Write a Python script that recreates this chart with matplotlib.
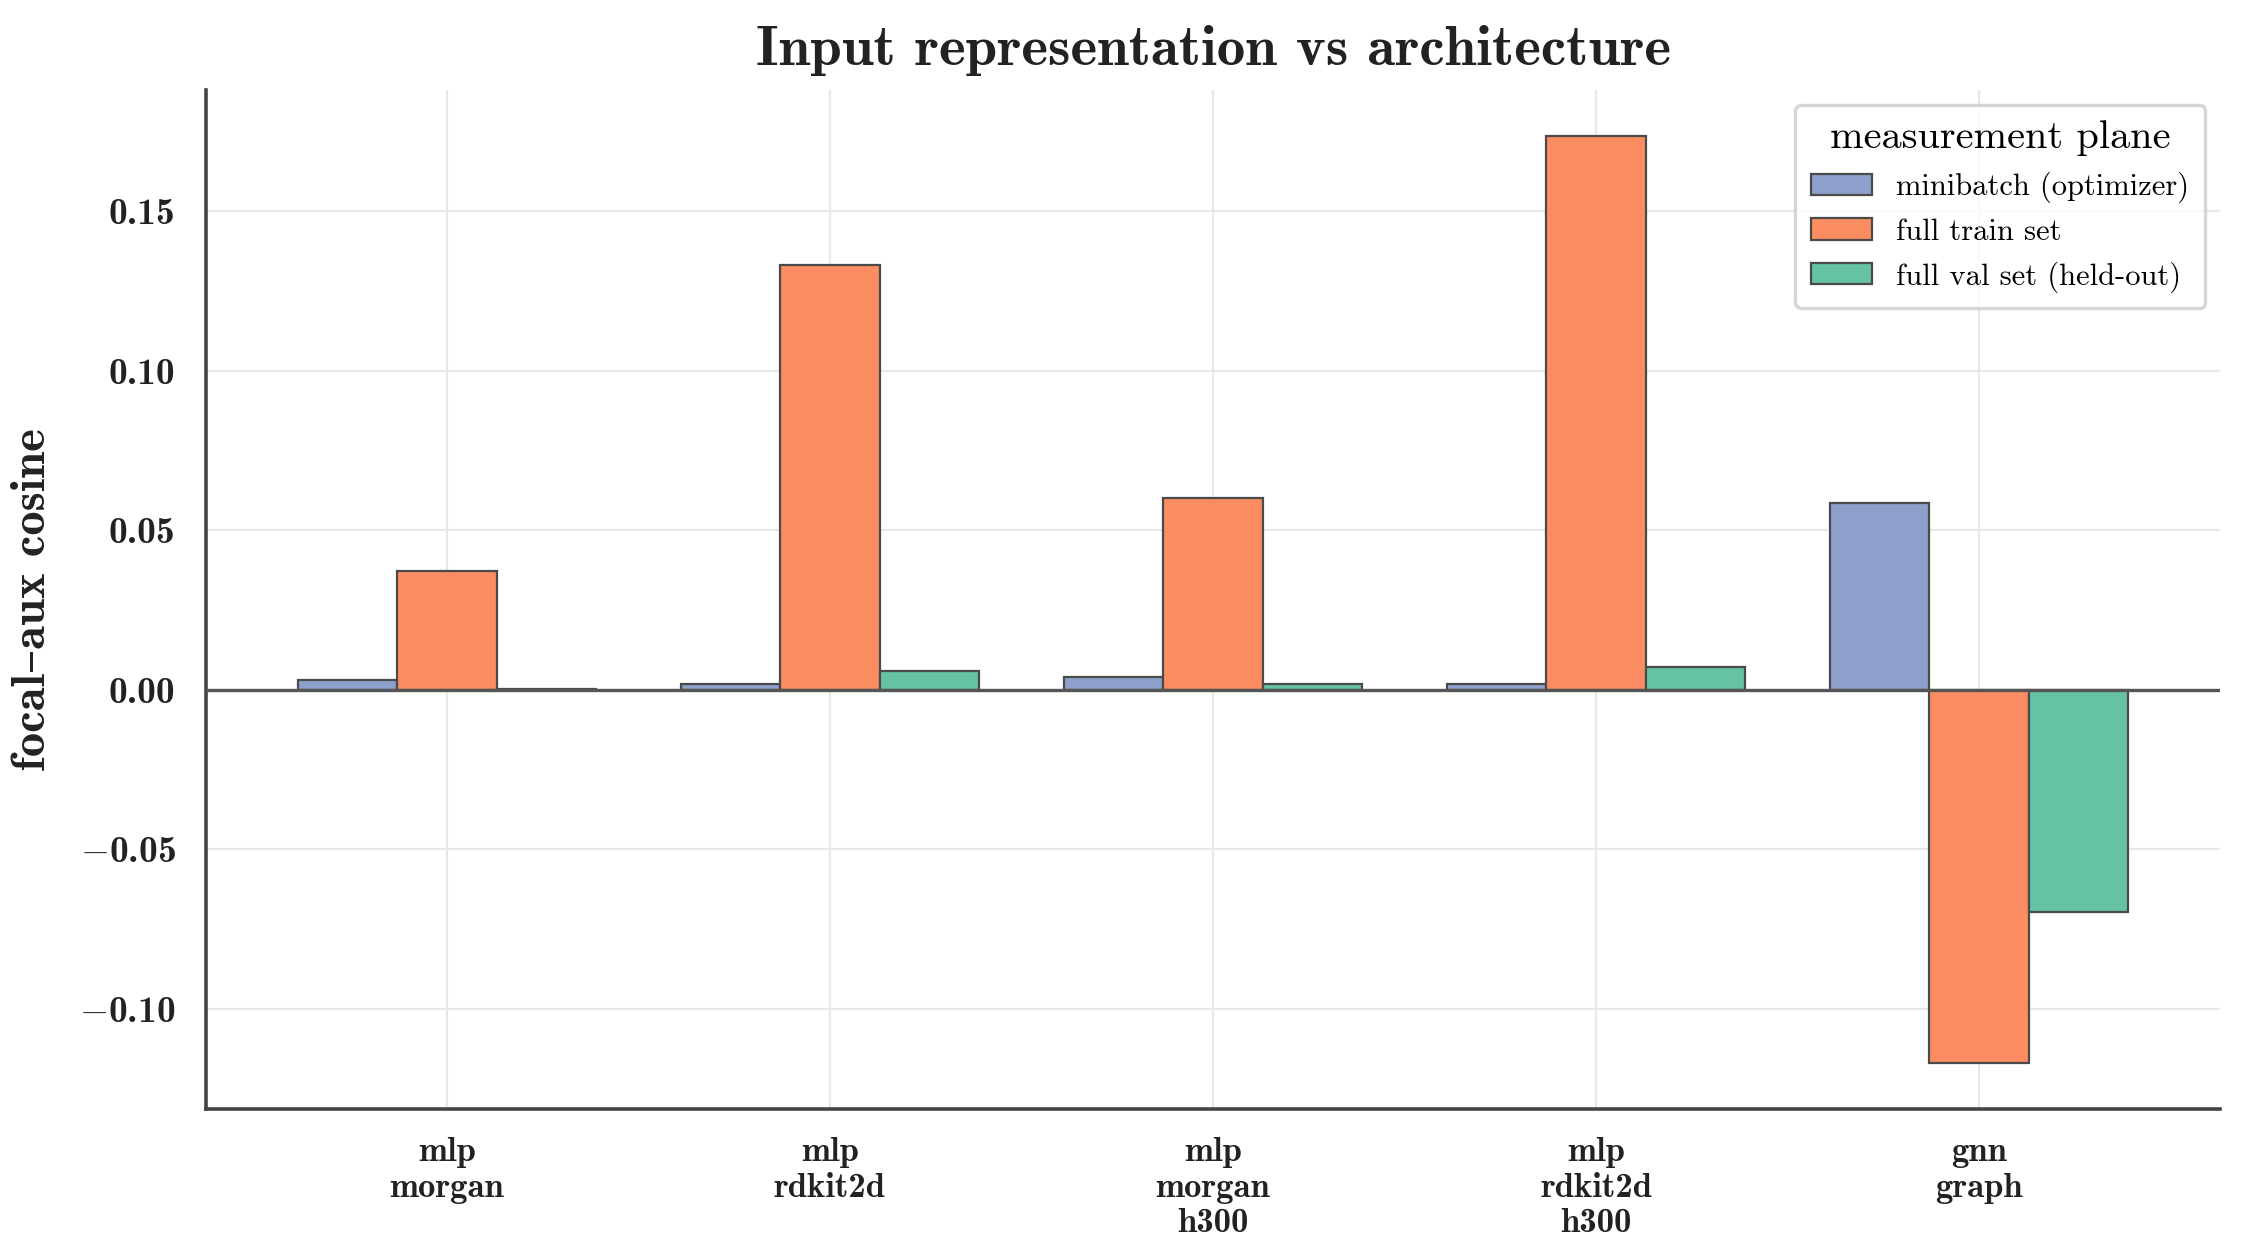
import numpy as np
import matplotlib
matplotlib.use("Agg")
import matplotlib.pyplot as plt
from matplotlib.ticker import MultipleLocator, FuncFormatter

# 数据
groups = ["mlp\nmorgan", "mlp\nrdkit2d", "mlp\nmorgan\nh300", "mlp\nrdkit2d\nh300", "gnn\ngraph"]
planes = ["minibatch (optimizer)", "full train set", "full val set (held-out)"]
minibatch = [0.0031, 0.0019, 0.0040, 0.0017, 0.0584]
full_train = [0.0373, 0.1330, 0.0602, 0.1734, -0.1168]
full_val = [0.0004, 0.0058, 0.0018, 0.0072, -0.0697]
colors = ["#8da0cb", "#fc8d62", "#66c2a5"]

plt.rcParams['font.family'] = ['cmr10', 'DejaVu Serif']
plt.rcParams['mathtext.fontset'] = 'cm'
plt.rcParams['axes.unicode_minus'] = False

fig = plt.figure(figsize=(2243 / 200, 1255 / 200), dpi=200)
ax = fig.add_axes([206 / 2243, 1 - 1109 / 1255, (2220 - 206) / 2243, (1109 - 90) / 1255])

x = np.arange(len(groups))
w = 0.26
series = [minibatch, full_train, full_val]
for i, (vals, lab, c) in enumerate(zip(series, planes, colors)):
    ax.bar(x + (i - 1) * w, vals, width=w, color=c, edgecolor="#4a4a4a",
           linewidth=0.8, label=lab, zorder=3)

ax.axhline(0, color="#555555", linewidth=1.2, zorder=4)

# 网格和坐标轴
ax.grid(True, color="#e8e8e8", linewidth=0.8, zorder=0)
ax.set_axisbelow(True)
for s in ["top", "right"]:
    ax.spines[s].set_visible(False)
for s in ["left", "bottom"]:
    ax.spines[s].set_color("#444444")
    ax.spines[s].set_linewidth(1.3)

ax.set_xticks(x)
ax.set_xticklabels(groups, fontfamily="cmb10", fontsize=12.5, color="#222222")
ax.yaxis.set_major_locator(MultipleLocator(0.05))


def fmt(v, pos):
    s = f"{abs(v):.2f}"
    return r"$-$" + s if v < -1e-9 else s


ax.yaxis.set_major_formatter(FuncFormatter(fmt))
ax.tick_params(axis="x", length=0, pad=10, labelcolor="#222222")
ax.tick_params(axis="y", length=0, pad=11, labelsize=13.5, labelcolor="#222222")
for t in ax.get_yticklabels():
    t.set_fontfamily("cmb10")

ax.set_ylabel("focal–aux cosine", fontsize=17.5, color="#222222", labelpad=9,
              family=['cmb10', 'DejaVu Serif'])
ax.set_title("Input representation vs architecture", fontfamily="cmb10",
             fontsize=20.5, color="#222222", pad=9)

leg = ax.legend(title="measurement plane", loc="upper right", fontsize=11,
                title_fontsize=14.5, frameon=True, fancybox=True, borderpad=0.5)
leg.get_frame().set_edgecolor("#cccccc")
leg.get_frame().set_linewidth(1.2)

fig.savefig("out.png", dpi=200)
